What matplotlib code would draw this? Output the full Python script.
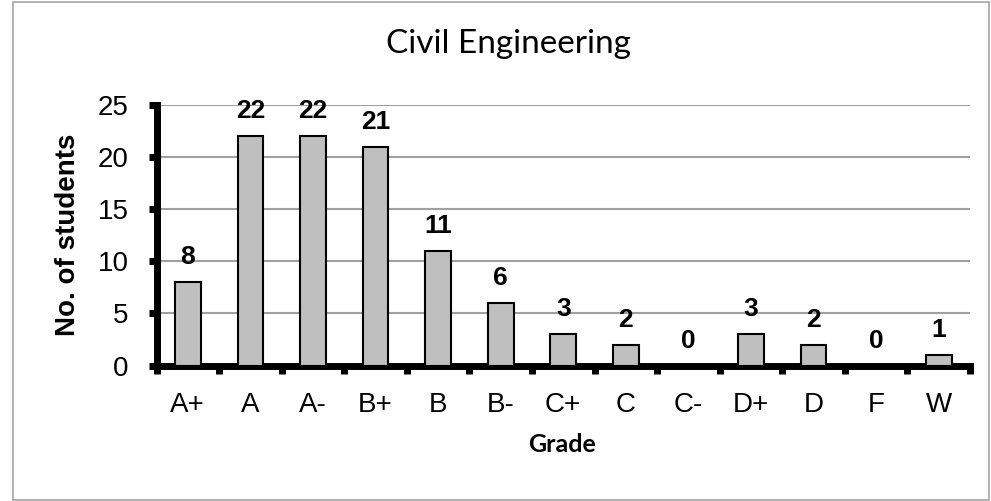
import matplotlib
matplotlib.use("Agg")
import matplotlib.pyplot as plt
from matplotlib.patches import Rectangle
import numpy as np

grades = ["A+", "A", "A-", "B+", "B", "B-", "C+", "C", "C-", "D+", "D", "F", "W"]
students = [8, 22, 22, 21, 11, 6, 3, 2, 0, 3, 2, 0, 1]
yticks = [0, 5, 10, 15, 20, 25]

W, H = 991, 501
fig = plt.figure(figsize=(W / 100, H / 100), dpi=100)
# outer chart border
fig.patches.append(Rectangle((12.5 / W, 1.5 / H), (989 - 12.5) / W, (499 - 1.5) / H,
                             transform=fig.transFigure, fill=False,
                             edgecolor="#a6a6a6", linewidth=1.2))

left, right, top, bottom = 156.5, 970.0, 105.0, 365.5
ax = fig.add_axes([left / W, 1 - bottom / H, (right - left) / W, (bottom - top) / H])

x = np.arange(len(grades))
ax.bar(x, students, width=0.41, color="#bfbfbf", edgecolor="black", linewidth=1.5, zorder=3)
for xi, v in zip(x, students):
    ax.text(xi, v + 1.72, str(v), ha="center", va="baseline", fontsize=19,
            fontweight="bold", family="Liberation Sans")

ax.set_xlim(-0.5, len(grades) - 0.5)
ax.set_ylim(0, 25)
ax.set_yticks(yticks)
ax.set_yticklabels([str(t) for t in yticks], fontsize=20, family="Liberation Sans")
ax.yaxis.grid(True, color="#a0a0a0", linewidth=1.5, zorder=0)
ax.set_axisbelow(True)

ax.set_xticks(x)
ax.set_xticklabels(grades, fontsize=20, family="Liberation Sans")
ax.tick_params(axis="x", which="major", length=0, pad=19)
ax.set_xticks(np.arange(-0.5, len(grades)), minor=True)
ax.tick_params(axis="x", which="minor", length=6, width=5, direction="out")
ax.tick_params(axis="y", length=6, width=5, direction="out", pad=14)

for s in ["top", "right"]:
    ax.spines[s].set_visible(False)
for s in ["left", "bottom"]:
    ax.spines[s].set_linewidth(5)

ax.set_ylabel("No. of students", fontsize=20, fontweight="bold", family="Liberation Sans")
ax.yaxis.set_label_coords(-0.093, 0.5)
fig.text(562 / W, 1 - 452 / H, "Grade", ha="center", va="baseline",
         fontsize=18, fontweight="bold", family="Lato")
fig.text(508 / W, 1 - 53 / H, "Civil Engineering", ha="center", va="baseline",
         fontsize=24, family="Lato")

fig.savefig("out.png", dpi=100)
